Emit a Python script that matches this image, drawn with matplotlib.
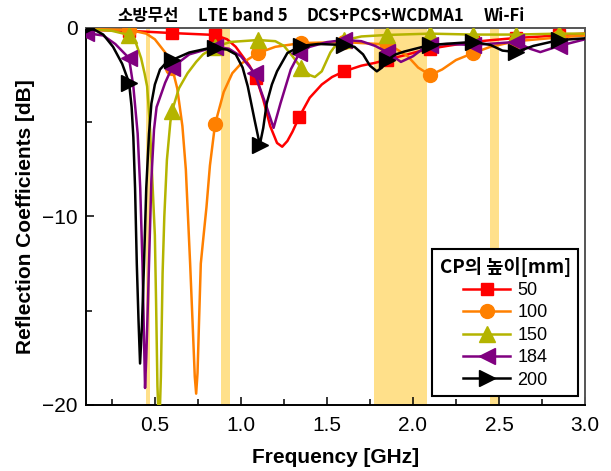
import numpy as np
import matplotlib
matplotlib.use("Agg")
import matplotlib.pyplot as plt
from matplotlib.transforms import blended_transform_factory

plt.rcParams['font.family'] = ['Liberation Sans', 'DejaVu Sans']
KR = ['Noto Sans CJK KR', 'DejaVu Sans']

# service bands [GHz]
band_names = ['소방무선', 'LTE band 5', 'DCS+PCS+WCDMA1', 'Wi-Fi']
band_lo = [0.450, 0.885, 1.775, 2.450]
band_hi = [0.472, 0.937, 2.080, 2.500]
band_label_x = [0.46, 1.01, 1.84, 2.53]

# marker positions [GHz]
marker_f = [0.10, 0.35, 0.60, 0.85, 1.10, 1.35, 1.60, 1.85, 2.10, 2.35, 2.60, 2.85]

# CP height 50 mm
f50 = [0.10, 0.35, 0.60, 0.85, 0.92, 0.97, 1.01, 1.05, 1.09, 1.13, 1.17, 1.21, 1.24, 1.27, 1.30,
       1.34, 1.40, 1.47, 1.53, 1.60, 1.70, 1.78, 1.85, 1.95, 2.03, 2.10, 2.20, 2.35, 2.45, 2.60,
       2.75, 2.85, 3.00]
s50 = [-0.10, -0.15, -0.27, -0.37, -0.60, -1.00, -1.50, -2.00, -2.66, -3.80, -5.20, -6.10, -6.30, -6.00, -5.50,
       -4.70, -3.70, -3.00, -2.60, -2.30, -2.00, -1.85, -1.68, -1.45, -1.25, -1.10, -0.95, -0.74, -0.65, -0.53,
       -0.45, -0.37, -0.30]

# CP height 100 mm
f100 = [0.10, 0.35, 0.45, 0.50, 0.56, 0.60, 0.63, 0.66, 0.68, 0.69, 0.705, 0.72, 0.732, 0.74,
        0.748, 0.757, 0.767, 0.78, 0.80, 0.82, 0.85, 0.90, 0.95, 1.00, 1.10, 1.20, 1.35, 1.60,
        1.80, 1.85, 1.90, 1.97, 2.03, 2.10, 2.17, 2.25, 2.35, 2.45, 2.60, 2.85, 3.00]
s100 = [-0.05, -0.10, -0.30, -0.60, -1.30, -2.10, -3.20, -5.20, -7.50, -9.50, -12.5, -15.8, -18.5, -19.4,
        -18.3, -15.5, -12.5, -11.3, -9.50, -7.30, -5.10, -3.40, -2.40, -1.90, -1.33, -1.00, -0.80, -0.75,
        -0.85, -0.95, -1.10, -1.50, -2.10, -2.50, -2.20, -1.70, -1.33, -1.00, -0.70, -0.50, -0.40]

# CP height 150 mm
f150 = [0.10, 0.25, 0.35, 0.39, 0.42, 0.44, 0.455, 0.47, 0.48, 0.49, 0.50, 0.507, 0.515, 0.525,
        0.535, 0.545, 0.555, 0.57, 0.59, 0.60, 0.64, 0.69, 0.74, 0.78, 0.85, 0.94, 1.10, 1.20,
        1.25, 1.30, 1.35, 1.40, 1.43, 1.47, 1.52, 1.56, 1.60, 1.70, 1.85, 2.10, 2.35, 2.60, 2.85, 3.00]
s150 = [-0.05, -0.15, -0.37, -0.80, -1.60, -2.40, -3.10, -5.00, -7.00, -9.00, -11.0, -14.5, -19.0, -21.5,
        -18.5, -13.0, -10.0, -7.00, -5.00, -4.40, -3.20, -2.40, -1.80, -1.40, -1.00, -0.74, -0.64, -0.70,
        -0.95, -1.50, -2.10, -2.50, -2.60, -2.30, -1.30, -0.80, -0.65, -0.45, -0.37, -0.30, -0.35, -0.35, -0.30, -0.30]

# CP height 184 mm
f184 = [0.10, 0.20, 0.27, 0.35, 0.375, 0.40, 0.415, 0.428, 0.437, 0.443, 0.45, 0.46, 0.466,
        0.48, 0.495, 0.51, 0.56, 0.60, 0.70, 0.85, 0.93, 1.00, 1.08, 1.15, 1.19, 1.23, 1.29, 1.34,
        1.40, 1.50, 1.60, 1.70, 1.78, 1.85, 1.93, 2.00, 2.08, 2.10, 2.20, 2.35, 2.60, 2.68, 2.74,
        2.85, 3.00]
s184 = [-0.27, -0.40, -0.85, -1.60, -3.10, -5.60, -8.50, -12.5, -16.5, -19.1, -17.5, -14.5, -12.5,
        -8.00, -5.40, -4.20, -2.90, -2.10, -1.40, -1.00, -1.10, -1.50, -2.40, -4.20, -5.30, -4.00, -2.20, -1.33,
        -1.00, -0.75, -0.64, -0.70, -0.95, -1.28, -1.80, -1.50, -0.95, -0.90, -0.85, -0.90, -0.74, -1.10, -1.28,
        -0.95, -0.60]

# CP height 200 mm
f200 = [0.10, 0.15, 0.20, 0.257, 0.31, 0.35, 0.365, 0.375, 0.385, 0.395, 0.405, 0.414, 0.425, 0.437,
        0.45, 0.466, 0.48, 0.50, 0.53, 0.56, 0.60, 0.70, 0.80, 0.85, 0.92, 0.97, 1.01, 1.04, 1.08,
        1.11, 1.13, 1.15, 1.18, 1.21, 1.27, 1.35, 1.45, 1.60, 1.66, 1.71, 1.75, 1.79, 1.82, 1.85,
        1.90, 1.95, 2.10, 2.35, 2.45, 2.52, 2.60, 2.70, 2.85, 3.00]
s200 = [-0.02, -0.10, -0.35, -1.00, -1.90, -2.90, -4.20, -5.80, -8.50, -12.5, -15.5, -17.8, -15.8, -12.5,
        -8.50, -5.60, -4.00, -3.00, -2.20, -1.90, -1.70, -1.30, -1.10, -1.06, -1.15, -1.40, -2.10, -3.10, -4.90,
        -6.20, -5.30, -4.00, -3.00, -2.30, -1.33, -0.95, -0.85, -0.90, -1.00, -1.40, -2.00, -2.30, -2.10, -1.70,
        -1.40, -1.25, -0.90, -0.74, -0.90, -1.20, -1.28, -0.95, -0.64, -0.55]

labels = ['50', '100', '150', '184', '200']
freqs = [f50, f100, f150, f184, f200]
values = [s50, s100, s150, s184, s200]
colors = ['#FF0000', '#FF8000', '#B4B400', '#800080', '#000000']
markers = ['s', 'o', '^', '<', '>']
msizes = [9, 10, 11, 11, 11]

fig = plt.figure(figsize=(6.11, 4.71), dpi=100)
ax = fig.add_axes([0.1408, 0.1402, 0.8167, 0.8004])

for lo, hi in zip(band_lo, band_hi):
    ax.axvspan(lo, hi, color='#FFE08A', lw=0, zorder=0)

for f, s, c, m, ms, lab in zip(freqs, values, colors, markers, msizes, labels):
    f = np.array(f)
    idx = sorted(set(int(np.argmin(np.abs(f - mf))) for mf in marker_f))
    ax.plot(f, s, color=c, lw=1.8, marker=m, ms=ms, markevery=idx, label=lab, zorder=3)

ax.set_xlim(0.1, 3.0)
ax.set_ylim(-20, 0)
ax.set_xticks([0.5, 1.0, 1.5, 2.0, 2.5, 3.0])
ax.set_xticks([0.25, 0.75, 1.25, 1.75, 2.25, 2.75], minor=True)
ax.set_yticks([0, -10, -20])
ax.set_yticks([-5, -15], minor=True)
ax.tick_params(which='both', direction='in', labelsize=15, top=False, right=False, width=1.1)
ax.tick_params(which='major', length=6)
ax.tick_params(which='minor', length=4)
ax.tick_params(axis='x', pad=8)
ax.tick_params(axis='y', pad=6)

for side in ['left', 'bottom']:
    ax.spines[side].set_linewidth(1.4)
    ax.spines[side].set_color('black')
for side in ['top', 'right']:
    ax.spines[side].set_linewidth(1.4)
    ax.spines[side].set_color('#555555')

ax.set_xlabel('Frequency [GHz]', fontsize=15, fontweight='bold', labelpad=9)
ax.set_ylabel('Reflection Coefficients [dB]', fontsize=15, fontweight='bold', labelpad=5)

tr = blended_transform_factory(ax.transData, ax.transAxes)
for name, x in zip(band_names, band_label_x):
    ax.text(x, 1.008, name, transform=tr, ha='center', va='bottom', fontsize=12,
            fontweight='bold', family=KR)

leg = ax.legend(loc='lower right', bbox_to_anchor=(0.986, 0.024), borderaxespad=0,
                fancybox=False, edgecolor='black', framealpha=1, fontsize=13,
                handlelength=2.6, labelspacing=0.3, borderpad=0.4, handletextpad=0.4,
                title='CP의 높이[mm]',
                title_fontproperties={'family': KR, 'weight': 'bold', 'size': 13.5})
leg.get_frame().set_linewidth(1.5)

fig.savefig('out.png', dpi=100)
